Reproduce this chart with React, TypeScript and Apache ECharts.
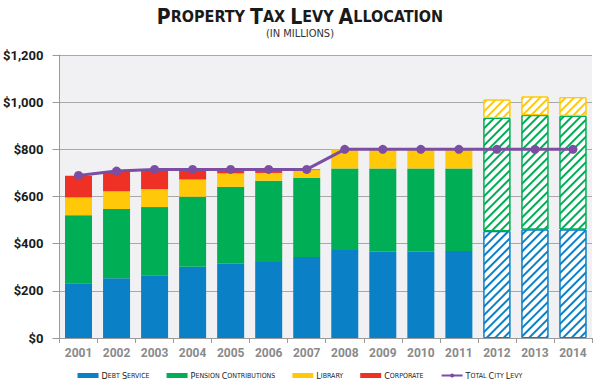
import React, { useEffect, useRef } from "react";
import * as echarts from "echarts";

const years = ["2001","2002","2003","2004","2005","2006","2007","2008","2009","2010","2011","2012","2013","2014"];
const debtService = [232, 253, 266, 302, 315, 322, 343, 373, 366, 366, 369, 453, 460, 460];
const pension = [289, 294, 289, 297, 326, 345, 336, 346, 353, 353, 350, 480, 485, 482];
const library = [75, 75, 76, 73, 57, 33, 33, 81, 81, 81, 81, 78, 79, 79];
const corporate = [92, 86, 84, 43, 17, 15, 3, null, null, null, null, null, null, null];
const totalLevy = [689, 708, 715, 715, 715, 715, 715, 800, 800, 800, 800, 800, 800, 800];
const projected = [false,false,false,false,false,false,false,false,false,false,false,true,true,true];
const yTicks = [0, 200, 400, 600, 800, 1000, 1200];

const FONT = "Roboto, 'Liberation Sans', sans-serif";
const TFONT = "'DejaVu Sans Condensed', sans-serif";

const sc = (s: string) =>
  s.split(" ").map((w) => `{b|${w[0]}}{s|${w.slice(1).toUpperCase()}}`).join("{s| }");

function barData(vals: (number | null)[], color: string) {
  return vals.map((v, i) =>
    projected[i]
      ? {
          value: v,
          itemStyle: {
            color: "#ffffff",
            borderColor: color,
            borderWidth: 1,
            decal: {
              symbol: "rect",
              symbolSize: 1,
              color: color,
              backgroundColor: "#ffffff",
              dashArrayX: [1, 0],
              dashArrayY: [2, 4],
              rotation: -Math.PI / 4,
            },
          },
        }
      : { value: v }
  );
}

export default function App() {
  const ref = useRef<HTMLDivElement>(null);
  useEffect(() => {
    const chart = echarts.init(ref.current!, null, { renderer: "svg" });
    const colors = { debt: "#0a80c6", pension: "#00ae55", library: "#ffc90a", corp: "#ee3124", line: "#7b4ea3" };
    chart.setOption({
      animation: false,
      backgroundColor: "#ffffff",
      textStyle: { fontFamily: FONT },
      title: {
        text: sc("Property Tax Levy Allocation"),
        subtext: "(IN MILLIONS)",
        left: "center",
        top: 1,
        itemGap: 1,
        textStyle: {
          fontFamily: TFONT,
          rich: {
            b: { fontSize: 21, fontWeight: "bold", color: "#1a1a1a", fontFamily: TFONT },
            s: { fontSize: 16, fontWeight: "bold", color: "#1a1a1a", fontFamily: TFONT },
          },
        },
        subtextStyle: { fontSize: 11, color: "#333", fontFamily: TFONT },
      },
      legend: {
        bottom: 0,
        left: "center",
        itemWidth: 21,
        itemHeight: 5,
        itemGap: 17,
        formatter: (name: string) => sc(name),
        textStyle: {
          padding: [0, 0, 0, -2],
          rich: {
            b: { fontSize: 9, color: "#222", fontFamily: TFONT },
            s: { fontSize: 7, color: "#222", fontFamily: TFONT },
          },
        },
        data: [
          { name: "Debt Service", icon: "rect" },
          { name: "Pension Contributions", icon: "rect" },
          { name: "Library", icon: "rect" },
          { name: "Corporate", icon: "rect" },
          { name: "Total City Levy" },
        ],
      },
      grid: { left: 58, right: 8, top: 55, bottom: 47, show: true, backgroundColor: "#f1f1f3", borderWidth: 0 },
      xAxis: {
        type: "category",
        data: years,
        axisLine: { lineStyle: { color: "#9a9a9a" } },
        axisTick: { show: true, length: 5, lineStyle: { color: "#9a9a9a" } },
        axisLabel: { interval: 0, color: "#8a8a8a", fontSize: 12, fontWeight: "bold", margin: 9, fontFamily: FONT },
      },
      yAxis: {
        type: "value",
        min: yTicks[0],
        max: yTicks[yTicks.length - 1],
        interval: 200,
        axisLine: { show: true, lineStyle: { color: "#9a9a9a" } },
        axisTick: { show: true, length: 7, lineStyle: { color: "#9a9a9a" } },
        splitLine: { lineStyle: { color: "#a8a8a8", width: 1 } },
        axisLabel: {
          color: "#1a1a1a",
          fontSize: 13,
          fontWeight: "bold",
          margin: 16,
          fontFamily: FONT,
          formatter: (v: number) => "$" + v.toLocaleString("en-US"),
        },
      },
      series: [
        { name: "Debt Service", type: "bar", stack: "t", barWidth: 27, itemStyle: { color: colors.debt }, data: barData(debtService, colors.debt) },
        { name: "Pension Contributions", type: "bar", stack: "t", barWidth: 27, itemStyle: { color: colors.pension }, data: barData(pension, colors.pension) },
        { name: "Library", type: "bar", stack: "t", barWidth: 27, itemStyle: { color: colors.library }, data: barData(library, colors.library) },
        { name: "Corporate", type: "bar", stack: "t", barWidth: 27, itemStyle: { color: colors.corp }, data: barData(corporate, colors.corp) },
        {
          name: "Total City Levy",
          type: "line",
          data: totalLevy,
          symbol: "circle",
          symbolSize: 9,
          lineStyle: { color: colors.line, width: 3 },
          itemStyle: { color: colors.line },
          z: 5,
        },
      ],
    });
    return () => chart.dispose();
  }, []);
  return <div ref={ref} style={{ width: 600, height: 385, position: "absolute", left: 0, top: 0 }} />;
}
